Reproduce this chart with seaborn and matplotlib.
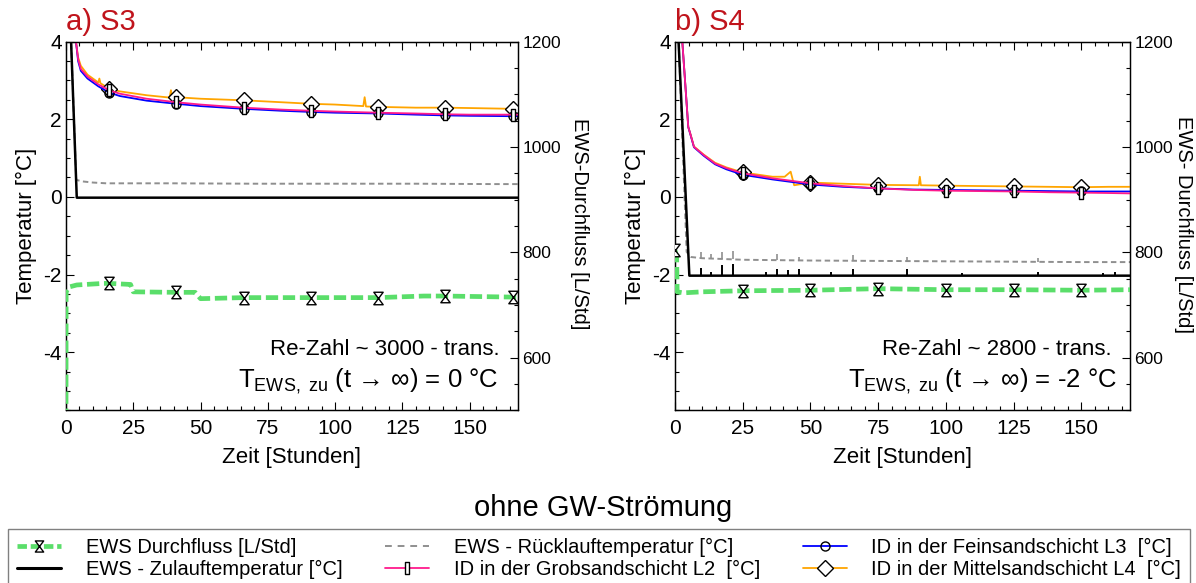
import matplotlib
matplotlib.use("Agg")
import matplotlib.pyplot as plt
import seaborn as sns
from matplotlib.path import Path
from matplotlib.lines import Line2D
from matplotlib.ticker import MultipleLocator

# ---------------- data: panel a) S3 ----------------
s3_t = [3.0, 3.7, 4.5, 5.5, 8, 12, 16, 20, 30, 41, 50, 66, 80, 91, 100, 116, 130, 141, 150, 166, 168]
s3_L2 = [6.0, 4.0, 3.55, 3.3, 3.1, 2.9, 2.75, 2.66, 2.53, 2.44, 2.38, 2.30, 2.25, 2.22, 2.20, 2.17, 2.15, 2.13, 2.12, 2.12, 2.12]
s3_L3 = [6.0, 4.0, 3.5, 3.25, 3.05, 2.85, 2.69, 2.6, 2.48, 2.40, 2.34, 2.27, 2.22, 2.19, 2.17, 2.15, 2.12, 2.10, 2.09, 2.08, 2.08]
s3_L4_t = [3.0, 3.7, 4.5, 5.5, 8, 12, 12.4, 12.8, 16, 20, 30, 38.5, 39, 39.5, 41, 50, 66, 80, 91, 100,
           110.5, 111, 111.5, 116, 130, 141, 150, 166, 168]
s3_L4 = [6.0, 4.0, 3.6, 3.38, 3.15, 2.95, 3.05, 2.93, 2.79, 2.72, 2.62, 2.56, 2.75, 2.56, 2.57, 2.53, 2.49, 2.44, 2.40, 2.38,
         2.34, 2.57, 2.33, 2.32, 2.30, 2.30, 2.29, 2.27, 2.27]
s3_marks = [16, 41, 66, 91, 116, 141, 166]
s3_zu_t = [0, 4.0, 168]
s3_zu = [7.6, -0.02, -0.02]
s3_ret_t = [0, 3.8, 6, 10, 15, 40, 70, 100, 130, 160, 168]
s3_ret = [7.6, 0.44, 0.40, 0.37, 0.35, 0.35, 0.34, 0.34, 0.34, 0.33, 0.33]
s3_flow_t = [0, 0.05, 1, 4, 14, 16, 24, 25, 41, 48, 50, 66, 91, 116, 133, 141, 166, 168]
s3_flow = [480, 725, 734, 738, 741, 741, 739, 725, 724, 724, 712, 714, 714, 714, 717, 717, 715, 715]
s3_flow_marks = [16, 41, 66, 91, 116, 141, 166]

# ---------------- data: panel b) S4 ----------------
s4_t = [2.0, 2.7, 4.9, 5.8, 7, 10.6, 14.8, 19, 25, 36, 50, 62, 75, 88, 100, 112, 125, 138, 150, 160, 168]
s4_L2 = [6.0, 4.0, 1.8, 1.59, 1.29, 1.08, 0.86, 0.74, 0.61, 0.48, 0.35, 0.28, 0.22, 0.18, 0.16, 0.15, 0.14, 0.12, 0.11, 0.10, 0.09]
s4_L3 = [6.0, 4.0, 1.8, 1.58, 1.28, 1.06, 0.84, 0.71, 0.57, 0.45, 0.32, 0.26, 0.22, 0.19, 0.18, 0.17, 0.16, 0.15, 0.14, 0.14, 0.14]
s4_L4_t = [2.0, 2.7, 4.9, 5.8, 7, 10.6, 14.8, 19, 25, 36, 40.5, 42.7, 44, 50, 62, 75, 90, 90.4, 90.8, 100,
           112, 125, 138, 150, 160, 168]
s4_L4 = [6.0, 4.0, 1.8, 1.6, 1.3, 1.09, 0.88, 0.76, 0.63, 0.52, 0.52, 0.65, 0.30, 0.37, 0.34, 0.31, 0.30, 0.52, 0.30, 0.29,
         0.28, 0.27, 0.26, 0.25, 0.26, 0.26]
s4_marks = [25, 50, 75, 100, 125, 150]
s4_zu_t = [0, 5.3, 168]
s4_zu = [6.0, -2.03, -2.03]
s4_zu_spike_t = [9.5, 13.4, 17.4, 21.4, 33.6, 37.6, 41.6, 45.6, 57.5, 65.6, 85.8, 106, 134, 158, 162.5]
s4_zu_spike_top = [-1.83, -1.93, -1.76, -1.72, -1.93, -1.85, -1.89, -1.87, -1.93, -1.87, -1.87, -1.96, -1.93, -1.96, -1.93]
s4_ret_t = [0, 4.3, 6, 10, 25, 50, 100, 150, 168]
s4_ret = [6.5, -1.42, -1.55, -1.58, -1.62, -1.64, -1.66, -1.68, -1.68]
s4_ret_spike_t = [9.5, 13.4, 17.4, 21.4, 37.6, 45.6, 65.6, 85.8, 134]
s4_ret_spike_top = [-1.42, -1.46, -1.42, -1.40, -1.46, -1.55, -1.50, -1.55, -1.57]
s4_ret_spike_foot = [-1.58, -1.59, -1.60, -1.61, -1.63, -1.63, -1.64, -1.65, -1.67]
s4_flow_t = [0, 0.6, 0.8, 3, 10, 25, 50, 75, 100, 125, 150, 168]
s4_flow = [804, 791, 725, 723, 725, 727, 728, 731, 729, 729, 728, 729]
s4_flow_marks = [0, 25, 50, 75, 100, 125, 150]

titles = ["a) S3", "b) S4"]
re_texts = ["Re-Zahl ~ 3000 - trans.", "Re-Zahl ~ 2800 - trans."]
t_texts = [r"T$_{\mathregular{EWS,\ zu}}$ (t → ∞) = 0 °C", r"T$_{\mathregular{EWS,\ zu}}$ (t → ∞) = -2 °C"]
right_labels = ["EWS-Durchfluss [L/Std]", "EWS- Durchfluss [L/Std]"]
legend_labels = ["EWS Durchfluss [L/Std]", "EWS - Zulauftemperatur [°C]",
                 "EWS - Rücklauftemperatur [°C]", "ID in der Grobsandschicht L2  [°C]",
                 "ID in der Feinsandschicht L3  [°C]", "ID in der Mittelsandschicht L4  [°C]"]

# ---------------- style ----------------
sns.set_theme(style="white")
plt.rcParams['font.family'] = ['Liberation Sans', 'DejaVu Sans']
plt.rcParams['mathtext.fontset'] = 'custom'
plt.rcParams['mathtext.rm'] = 'Liberation Sans'
plt.rcParams['mathtext.it'] = 'Liberation Sans:italic'
plt.rcParams['mathtext.bf'] = 'Liberation Sans:bold'
plt.rcParams['axes.unicode_minus'] = False
for k in ['text.color', 'axes.labelcolor', 'xtick.color', 'ytick.color', 'axes.edgecolor']:
    plt.rcParams[k] = 'black'

C_GREEN = "#5ade6a"
C_BLUE = "#0000ff"
C_MAG = "#ff1a8c"
C_ORG = "#ffa500"
C_GRAY = "#8f8f8f"
C_TITLE = "#c0141c"

HOURGLASS = Path([(-0.75, 1), (0.75, 1), (-0.75, -1), (0.75, -1), (-0.75, 1)],
                 [Path.MOVETO, Path.LINETO, Path.LINETO, Path.LINETO, Path.CLOSEPOLY])
RECT = Path([(-0.42, -1), (0.42, -1), (0.42, 1), (-0.42, 1), (-0.42, -1)],
            [Path.MOVETO, Path.LINETO, Path.LINETO, Path.LINETO, Path.CLOSEPOLY])

fig = plt.figure(figsize=(11.96, 5.83), dpi=100)
H = 583.0
W = 1196.0
bottom = 1 - 410.3 / H
height = 368.6 / H
axL = fig.add_axes([66 / W, bottom, 452 / W, height])
axR = fig.add_axes([675 / W, bottom, 455 / W, height])


def line(ax, t, v, **kw):
    sns.lineplot(x=t, y=v, ax=ax, estimator=None, sort=False, legend=False, **kw)


def idx(tlist, marks):
    return [tlist.index(m) for m in marks]


panels = [
    dict(ax=axL, t=s3_t, L2=s3_L2, L3=s3_L3, L4t=s3_L4_t, L4=s3_L4, marks=s3_marks,
         zut=s3_zu_t, zu=s3_zu, rett=s3_ret_t, ret=s3_ret, ft=s3_flow_t, f=s3_flow, fm=s3_flow_marks,
         rlx=1.135, tx=0.956),
    dict(ax=axR, t=s4_t, L2=s4_L2, L3=s4_L3, L4t=s4_L4_t, L4=s4_L4, marks=s4_marks,
         zut=s4_zu_t, zu=s4_zu, rett=s4_ret_t, ret=s4_ret, ft=s4_flow_t, f=s4_flow, fm=s4_flow_marks,
         rlx=1.118, tx=0.972),
]

mk = dict(markeredgecolor='black', markeredgewidth=1.0)

for i, p in enumerate(panels):
    ax = p['ax']
    ax2 = ax.twinx()
    # return & supply temperature
    line(ax, p['rett'], p['ret'], color=C_GRAY, linewidth=1.4, linestyle=(0, (2.8, 1.8)), zorder=2)
    if i == 1:
        ax.vlines(s4_ret_spike_t, s4_ret_spike_foot, s4_ret_spike_top, color=C_GRAY, linewidth=1.2, zorder=2)
        ax.vlines(s4_zu_spike_t, -2.03, s4_zu_spike_top, color='black', linewidth=1.4, zorder=3)
    line(ax, p['zut'], p['zu'], color='black', linewidth=1.8, zorder=3)
    # ground temperatures
    line(ax, p['L4t'], p['L4'], color=C_ORG, linewidth=1.3, zorder=4,
         marker='D', markersize=8.5, markerfacecolor='white', markevery=idx(p['L4t'], p['marks']), **mk)
    line(ax, p['t'], p['L3'], color=C_BLUE, linewidth=1.3, zorder=5,
         marker='o', markersize=6.5, markerfacecolor='none', markevery=idx(p['t'], p['marks']), **mk)
    line(ax, p['t'], p['L2'], color=C_MAG, linewidth=1.3, zorder=6,
         marker=RECT, markersize=8, markerfacecolor='white', markevery=idx(p['t'], p['marks']), **mk)
    # flow
    line(ax2, p['ft'], p['f'], color=C_GREEN, linewidth=3.4, linestyle=(0, (2.6, 1.0)), zorder=3,
         marker=HOURGLASS, markersize=9, markerfacecolor='white', markevery=idx(p['ft'], p['fm']), **mk)

    ax.set_xlim(0, 168)
    ax.set_ylim(-5.5, 4)
    ax2.set_ylim(500, 1200)
    ax.xaxis.set_major_locator(MultipleLocator(25))
    ax.xaxis.set_minor_locator(MultipleLocator(5))
    ax.yaxis.set_major_locator(MultipleLocator(2))
    ax.yaxis.set_minor_locator(MultipleLocator(0.5))
    ax2.yaxis.set_major_locator(MultipleLocator(200))
    ax2.yaxis.set_minor_locator(MultipleLocator(50))
    ax.tick_params(which='both', direction='in', top=True, bottom=True, left=True, right=False,
                   colors='black', width=0.8)
    ax.tick_params(which='major', length=5.5, labelsize=15)
    ax.tick_params(axis='x', which='major', pad=6)
    ax.tick_params(axis='y', which='major', pad=3)
    ax.tick_params(which='minor', length=3)
    ax2.tick_params(which='both', direction='in', right=True, left=False, colors='black', width=0.8)
    ax2.tick_params(which='major', length=5.5, labelsize=12.5, pad=3)
    ax2.tick_params(which='minor', length=3)
    for a in (ax, ax2):
        for s in a.spines.values():
            s.set_color('black')
            s.set_linewidth(0.9)
    ax.set_xlabel("Zeit [Stunden]", fontsize=16, labelpad=7)
    ax.set_ylabel("Temperatur [°C]", fontsize=16)
    ax.yaxis.set_label_coords(-0.064, 0.5)
    ax2.set_ylabel("")
    ax.text(p['rlx'], 0.505, right_labels[i], transform=ax.transAxes, rotation=270,
            ha='center', va='center', fontsize=14.5)
    ax.text(0.0, 1.016, titles[i], transform=ax.transAxes, ha='left', va='bottom',
            fontsize=21, color=C_TITLE)
    ax.text(0.96, 0.166, re_texts[i], transform=ax.transAxes, ha='right', va='center', fontsize=16)
    ax.text(p['tx'], 0.078, t_texts[i], transform=ax.transAxes, ha='right', va='center', fontsize=18.5)

fig.text(603 / W, 1 - 508 / H, "ohne GW-Strömung", ha='center', va='center', fontsize=21)

handles = [
    Line2D([], [], color=C_GREEN, linewidth=3.4, linestyle=(0, (2.0, 0.8)), marker=HOURGLASS,
           markersize=8, markerfacecolor='white', **mk),
    Line2D([], [], color='black', linewidth=2.2),
    Line2D([], [], color=C_GRAY, linewidth=1.4, linestyle=(0, (3.5, 3.0))),
    Line2D([], [], color=C_MAG, linewidth=1.3, marker=RECT, markersize=8, markerfacecolor='white', **mk),
    Line2D([], [], color=C_BLUE, linewidth=1.3, marker='o', markersize=6.5, markerfacecolor='none', **mk),
    Line2D([], [], color=C_ORG, linewidth=1.3, marker='D', markersize=8, markerfacecolor='white', **mk),
]
leg = fig.legend(handles, legend_labels, ncol=3, loc='upper left',
                 bbox_to_anchor=(8 / W, 0, 1182 / W, 1 - 529 / H), mode='expand',
                 fontsize=14.5, frameon=True, fancybox=False, edgecolor='#606060',
                 borderaxespad=0, handlelength=2.2, handletextpad=1.2, labelspacing=0.12,
                 borderpad=0.45)
leg.get_frame().set_linewidth(1.0)

fig.savefig("out.png", dpi=100)
